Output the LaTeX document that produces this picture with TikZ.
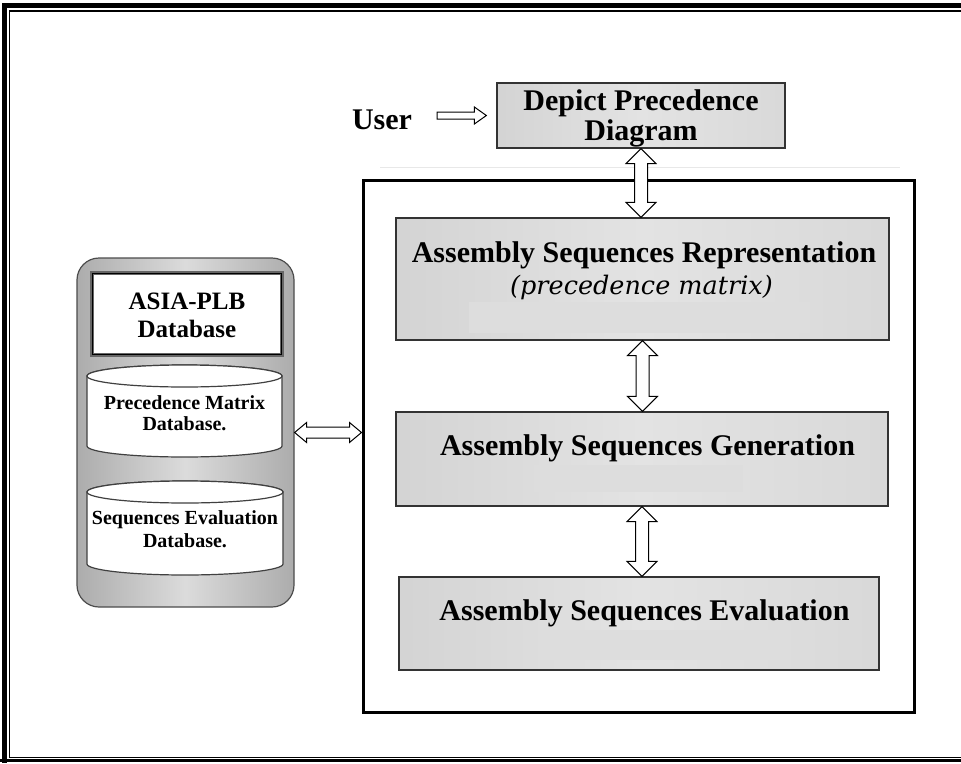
\documentclass[tikz,border=0pt]{standalone}
\usepackage{fontspec}
\setmainfont{Liberation Serif}
\newfontfamily\italfont{DejaVu Serif}
\usetikzlibrary{calc}
\newcommand{\vdarrow}[2]{\draw[blockarrow] let \p1=(#1), \p2=(#2) in
  (\x1,\y1) -- (\x1+15pt,\y1-15pt) -- (\x1+6.5pt,\y1-15pt) -- (\x1+6.5pt,\y2+15pt) -- (\x1+15pt,\y2+15pt)
  -- (\x1,\y2) -- (\x1-15pt,\y2+15pt) -- (\x1-6.5pt,\y2+15pt) -- (\x1-6.5pt,\y1-15pt) -- (\x1-15pt,\y1-15pt) -- cycle;}
\newcommand{\hdarrow}[2]{\draw[blockarrow] let \p1=(#1), \p2=(#2) in
  (\x1,\y1) -- (\x1+12pt,\y1+10pt) -- (\x1+12pt,\y1+5.5pt) -- (\x2-12pt,\y1+5.5pt) -- (\x2-12pt,\y1+10pt)
  -- (\x2,\y1) -- (\x2-12pt,\y1-10pt) -- (\x2-12pt,\y1-5.5pt) -- (\x1+12pt,\y1-5.5pt) -- (\x1+12pt,\y1-10pt) -- cycle;}
\begin{document}
\begin{tikzpicture}[x=1pt,y=-1pt,
  bigtext/.style={font=\fontsize{30}{30}\selectfont\bfseries, inner sep=0pt, align=center},
  subtext/.style={font=\italfont\itshape\fontsize{25.5}{26}\selectfont, inner sep=0pt},
  asiatext/.style={font=\fontsize{25}{28}\selectfont\bfseries, inner sep=0pt, align=center},
  dbtext/.style={font=\fontsize{20}{21}\selectfont\bfseries, inner sep=0pt, align=center},
  procbox/.style={draw=black!80, line width=1.3pt, left color=gray!34, right color=gray!30, middle color=gray!22, inner sep=0pt},
  patch/.style={fill=gray!27},
  blockarrow/.style={draw=black, fill=white, line width=1pt, line join=miter},
  cyl/.style={draw=black!75, fill=white, line width=1.2pt},
]
\useasboundingbox (0,0) rectangle (961,763);
% page frame
\draw[line width=5pt] (961,5.8) -- (4.2,5.8) -- (4.2,763);
\draw[line width=2.5pt] (0,760.5) -- (961,760.5);
\draw[line width=1.4pt] (961,11) -- (9.5,11) -- (9.5,757.5) -- (961,757.5);
% faint rule
\draw[gray!18, line width=1pt] (380,167) -- (900,167);

% user and depict
\node[bigtext] (user) at (382,120) {User};
\node[procbox, minimum width=288pt, minimum height=65pt] (depict) at (641,115.5) {};
\node[bigtext] (depicttext) at (641,118) {Depict Precedence\\Diagram};

% big box
\node[draw, line width=3pt, minimum width=551pt, minimum height=532pt, inner sep=0pt] (big) at (638.5,446) {};

% process boxes
\node[procbox, minimum width=493pt, minimum height=122pt] (rep) at (642.5,279) {};
\fill[patch] (469,302) rectangle (810,333);
\node[bigtext] (reptitle) at (644,255) {Assembly Sequences Representation};
\node[subtext] (repsub) at (641.5,287) {(precedence matrix)};

\node[procbox, minimum width=492pt, minimum height=94pt] (gen) at (642,459) {};
\fill[patch] (534,465) rectangle (743,492);
\node[bigtext] (gentitle) at (647.5,448) {Assembly Sequences Generation};

\node[procbox, minimum width=480pt, minimum height=93pt] (eval) at (639,623.5) {};
\fill[patch] (542,630) rectangle (769,660);
\node[bigtext] (evaltitle) at (644.5,613) {Assembly Sequences Evaluation};

% database container
\node[draw=black!70, line width=1.2pt, rounded corners=22pt, minimum width=217pt, minimum height=349pt,
      left color=gray!65, right color=gray!65, middle color=gray!28, inner sep=0pt] (db) at (185.5,432.5) {};
\node[draw=black!60, line width=4pt, fill=white, minimum width=190pt, minimum height=82pt, inner sep=0pt] (asia) at (187,314) {};
\draw[line width=1.4pt] ($(asia.south west)+(2.5,-2.5)$) rectangle ($(asia.north east)+(-2.5,2.5)$);
\node[asiatext] (asiatitle) at (187,315) {ASIA-PLB\\Database};

% cylinder 1
\filldraw[cyl] (87,376) -- (87,446) arc[start angle=180, end angle=360, x radius=97.5pt, y radius=11pt]
  -- (282,376) arc[start angle=0, end angle=180, x radius=97.5pt, y radius=11pt] -- cycle;
\draw[cyl] (184.5,376) ellipse[x radius=97.5pt, y radius=11pt];
\node[dbtext] (pm) at (184.5,413) {Precedence Matrix\\Database.};

% cylinder 2
\filldraw[cyl] (87,492) -- (87,564) arc[start angle=180, end angle=360, x radius=98pt, y radius=11pt]
  -- (283,492) arc[start angle=0, end angle=180, x radius=98pt, y radius=11pt] -- cycle;
\draw[cyl] (185,492) ellipse[x radius=98pt, y radius=11pt];
\node[dbtext, font=\fontsize{20}{23}\selectfont\bfseries] (se) at (185,529) {Sequences Evaluation\\Database.};

% connectors
\draw[blockarrow] let \p1=([xshift=25pt]user.east), \p2=([xshift=-10pt]depict.west) in
  (\x1,\y2+3.5pt) -- (\x2-12pt,\y2+3.5pt) -- (\x2-12pt,\y2+8.5pt) -- (\x2,\y2)
  -- (\x2-12pt,\y2-8.5pt) -- (\x2-12pt,\y2-3.5pt) -- (\x1,\y2-3.5pt) -- cycle;
\vdarrow{depict.south}{depict.south |- rep.north}
\vdarrow{rep.south}{rep.south |- gen.north}
\vdarrow{gen.south}{gen.south |- eval.north}
\hdarrow{db.east}{db.east -| big.west}
\end{tikzpicture}
\end{document}
